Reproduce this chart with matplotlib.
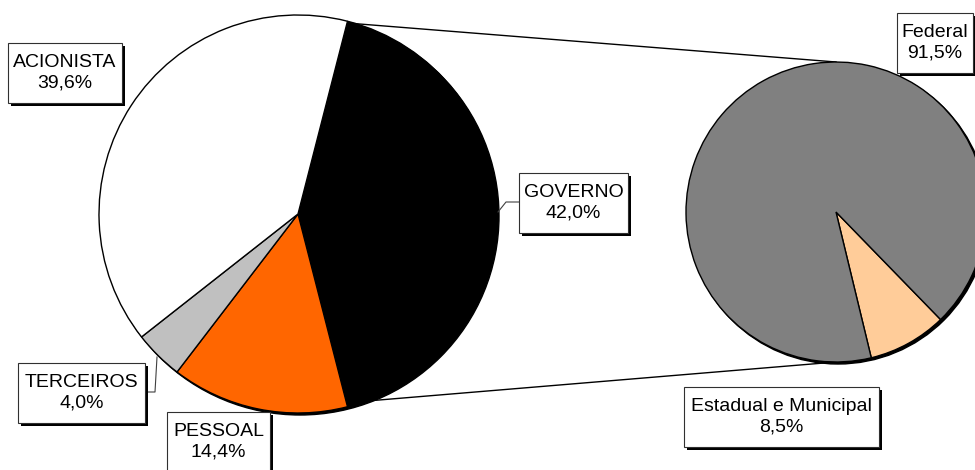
import matplotlib
matplotlib.use("Agg")
import matplotlib.pyplot as plt
from matplotlib.patches import Rectangle, Circle

plt.rcParams['font.family'] = ['Liberation Sans', 'DejaVu Sans']

# main pie
main_labels = ['GOVERNO', 'PESSOAL', 'TERCEIROS', 'ACIONISTA']
main_values = [42.0, 14.4, 4.0, 39.6]
main_colors = ['#000000', '#FF6600', '#C0C0C0', '#FFFFFF']

# breakdown of GOVERNO
sub_labels = ['Estadual e Municipal', 'Federal']
sub_values = [8.5, 91.5]
sub_colors = ['#FFCC99', '#808080']

W, H = 975, 470


def py(y):
    # pixel row (top-down) -> data y
    return H - y


def pct(v):
    return ('%.1f%%' % v).replace('.', ',')


fig = plt.figure(figsize=(9.75, 4.7), dpi=100)
ax = fig.add_axes([0, 0, 1, 1])
ax.axis('off')

c1, r1 = (298, py(214)), 199
c2, r2 = (836, py(212)), 150

# shadows under the pies
ax.add_patch(Circle((c1[0] + 2, c1[1] - 2), r1, color='black', zorder=0))
ax.add_patch(Circle((c2[0] + 2, c2[1] - 2), r2, color='black', zorder=0))

w1, _ = ax.pie(main_values, colors=main_colors, startangle=75.6, counterclock=False,
               center=c1, radius=r1, frame=True,
               wedgeprops=dict(edgecolor='black', linewidth=1))
w2, _ = ax.pie(sub_values, colors=sub_colors, startangle=-76.4, counterclock=True,
               center=c2, radius=r2, frame=True,
               wedgeprops=dict(edgecolor='black', linewidth=1))

# connector lines
ax.plot([347, 836], [py(23), py(62)], color='black', lw=1, zorder=0.5)
ax.plot([343, 836], [py(403), py(362)], color='black', lw=1, zorder=0.5)

# leader lines
ax.plot([498, 506, 519], [py(212), py(202), py(202)], color='#404040', lw=0.8, zorder=3)
ax.plot([157, 155, 145], [py(357), py(392), py(392)], color='#404040', lw=0.8, zorder=3)


def label_box(x0, y0, x1, y1, text):
    ax.add_patch(Rectangle((x0 + 3, py(y1) - 3), x1 - x0, y1 - y0,
                           facecolor='black', edgecolor='none', zorder=4))
    ax.add_patch(Rectangle((x0, py(y1)), x1 - x0, y1 - y0,
                           facecolor='white', edgecolor='#303030', lw=0.8, zorder=5))
    ax.text((x0 + x1) / 2, py((y0 + y1) / 2), text, ha='center', va='center',
            fontsize=14, linespacing=1.3, zorder=6)


boxes = {
    'ACIONISTA': (8, 43, 122, 103),
    'GOVERNO': (519, 173, 628, 233),
    'TERCEIROS': (18, 363, 145, 423),
    'PESSOAL': (167, 412, 270, 472),
}
for lab, val in zip(main_labels, main_values):
    x0, y0, x1, y1 = boxes[lab]
    label_box(x0, y0, x1, y1, lab + '\n' + pct(val))

sub_boxes = {
    'Federal': (897, 13, 973, 73),
    'Estadual e Municipal': (684, 387, 879, 447),
}
for lab, val in zip(sub_labels, sub_values):
    x0, y0, x1, y1 = sub_boxes[lab]
    label_box(x0, y0, x1, y1, lab + '\n' + pct(val))

ax.set_xlim(0, W)
ax.set_ylim(0, H)
ax.set_aspect('equal')
ax.axis('off')

fig.savefig('out.png', dpi=100, facecolor='white')
